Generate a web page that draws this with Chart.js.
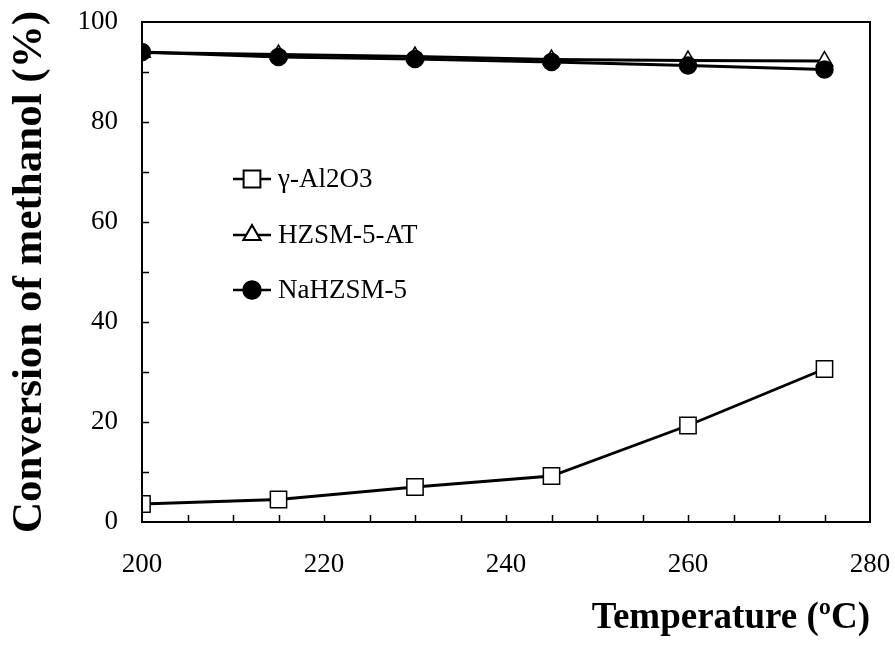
<!DOCTYPE html>
<html>
<head>
<meta charset="utf-8">
<script src="https://cdn.jsdelivr.net/npm/chart.js@4"></script>
<style>
html, body { margin:0; padding:0; background:#ffffff; }
#wrap { width:895px; height:645px; }
</style>
</head>
<body>
<div id="wrap"><canvas id="conversionChart" width="895" height="645"></canvas></div>
<script>
// ==========================================
// Methanol conversion vs temperature
// ==========================================

const temperatures = [200, 215, 230, 245, 260, 275];

const seriesNames = ["γ-Al2O3", "HZSM-5-AT", "NaHZSM-5"];

const alumina = [3.6, 4.5, 7.0, 9.2, 19.3, 30.6];
const hzsmAT = [93.9, 93.5, 93.1, 92.5, 92.3, 92.2];
const nahzsm = [94.0, 93.0, 92.6, 92.0, 91.3, 90.5];

const xTickLabels = [200, 220, 240, 260, 280];
const yTickLabels = [0, 20, 40, 60, 80, 100];

const SERIF = "'Liberation Serif', 'Times New Roman', serif";

function toPoints(values){
    return temperatures.map((t, i) => ({ x: t, y: values[i] }));
}

// frame, inner tick marks and in-plot legend
const framePlugin = {
    id: "frame",
    afterDraw(chart){
        const ctx = chart.ctx;
        const area = chart.chartArea;
        const xs = chart.scales.x;
        const ys = chart.scales.y;

        ctx.save();
        ctx.strokeStyle = "#000";
        ctx.lineWidth = 2;
        ctx.strokeRect(area.left, area.top, area.right - area.left, area.bottom - area.top);

        ctx.lineWidth = 1.5;
        ctx.beginPath();
        for(let v = 10; v < 100; v += 10){
            const py = Math.round(ys.getPixelForValue(v)) + 0.5;
            ctx.moveTo(area.left, py);
            ctx.lineTo(area.left + 7, py);
        }
        for(let v = 205; v < 280; v += 5){
            const px = Math.round(xs.getPixelForValue(v)) + 0.5;
            ctx.moveTo(px, area.bottom);
            ctx.lineTo(px, area.bottom - 7);
        }
        ctx.stroke();

        // legend
        const rows = [179, 235, 290];
        chart.data.datasets.forEach((ds, i) => {
            const y = rows[i];
            ctx.strokeStyle = "#000";
            ctx.lineWidth = 2.5;
            ctx.beginPath();
            ctx.moveTo(233, y);
            ctx.lineTo(271, y);
            ctx.stroke();
            ctx.beginPath();
            Chart.helpers.drawPoint(ctx, {
                pointStyle: ds.pointStyle,
                radius: ds.pointRadius,
                borderWidth: ds.pointBorderWidth,
                rotation: 0
            }, 252, y);
            ctx.fillStyle = ds.pointBackgroundColor;
            ctx.strokeStyle = "#000";
            ctx.lineWidth = ds.pointBorderWidth;
            ctx.fill();
            ctx.stroke();
            ctx.fillStyle = "#000";
            ctx.font = "27px " + SERIF;
            ctx.textAlign = "left";
            ctx.textBaseline = "middle";
            ctx.fillText(ds.label, 278, y + 1);
        });
        ctx.restore();
    }
};

new Chart(

    document.getElementById("conversionChart"),

    {

        type:"line",

        data:{

            datasets:[

                {
                    label:seriesNames[0],
                    data:toPoints(alumina),
                    borderColor:"#000",
                    borderWidth:2.8,
                    pointStyle:"rect",
                    pointRadius:11.5,
                    pointBorderWidth:1.5,
                    pointBackgroundColor:"#fff",
                    pointBorderColor:"#000",
                    order:2
                },

                {
                    label:seriesNames[1],
                    data:toPoints(hzsmAT),
                    borderColor:"#000",
                    borderWidth:2.8,
                    pointStyle:"triangle",
                    pointRadius:9.5,
                    pointBorderWidth:1.5,
                    pointBackgroundColor:"#fff",
                    pointBorderColor:"#000",
                    order:1
                },

                {
                    label:seriesNames[2],
                    data:toPoints(nahzsm),
                    borderColor:"#000",
                    borderWidth:2.8,
                    pointStyle:"circle",
                    pointRadius:8.5,
                    pointBorderWidth:1.5,
                    pointBackgroundColor:"#000",
                    pointBorderColor:"#000",
                    order:0
                }

            ]

        },

        options:{

            responsive:false,
            animation:false,
            events:[],

            layout:{
                padding:{ top:22, right:25, left:0, bottom:0 }
            },

            plugins:{
                legend:{ display:false },
                tooltip:{ enabled:false }
            },

            scales:{

                x:{
                    type:"linear",
                    min:200,
                    max:280,
                    grid:{ display:false, drawTicks:false },
                    border:{ display:false },
                    afterFit(scale){
                        scale.height = 123;
                        scale.paddingLeft = 0;
                        scale.paddingRight = 0;
                    },
                    afterBuildTicks(scale){
                        scale.ticks = xTickLabels.map(v => ({ value:v }));
                    },
                    ticks:{
                        padding:27,
                        color:"#000",
                        maxRotation:0,
                        font:{ family:SERIF, size:27 }
                    },
                    title:{
                        display:true,
                        text:"Temperature (ºC)",
                        align:"end",
                        color:"#000",
                        font:{ family:SERIF, size:37, weight:"bold", lineHeight:1.2 }
                    }
                },

                y:{
                    min:0,
                    max:100,
                    grid:{ display:false, drawTicks:false },
                    border:{ display:false },
                    afterFit(scale){
                        scale.width = 142;
                        scale.paddingTop = 0;
                        scale.paddingBottom = 0;
                    },
                    afterBuildTicks(scale){
                        scale.ticks = yTickLabels.map(v => ({ value:v }));
                    },
                    ticks:{
                        padding:24,
                        color:"#000",
                        font:{ family:SERIF, size:27 }
                    },
                    title:{
                        display:true,
                        text:"Conversion of methanol (%)",
                        align:"center",
                        color:"#000",
                        font:{ family:SERIF, size:43, weight:"bold", lineHeight:1.22 }
                    }
                }

            }

        },

        plugins:[framePlugin]

    }

);
</script>
</body>
</html>
